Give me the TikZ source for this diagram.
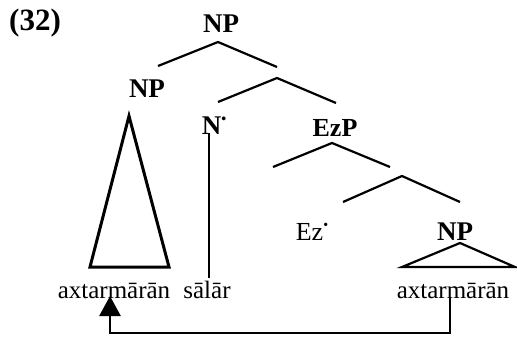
\documentclass[tikz,border=0pt]{standalone}
\usepackage{fontspec}
\setmainfont{Liberation Serif}
\usetikzlibrary{arrows.meta}
\newcommand{\updot}{\raisebox{0.42em}{\fontsize{14}{14}\selectfont\textbullet}}
\begin{document}
\begin{tikzpicture}[x=1pt,y=-1pt,
  cat/.style={anchor=base,inner sep=0pt,font=\fontsize{27}{30}\selectfont\bfseries},
  catr/.style={anchor=base,inner sep=0pt,font=\fontsize{26}{30}\selectfont},
  word/.style={anchor=base,inner sep=0pt,font=\fontsize{25}{28}\selectfont},
  branch/.style={line width=2.2pt},
  tri/.style={line width=3pt,line join=miter},
  mov/.style={line width=2.6pt,-{Triangle[width=21pt,length=20pt]}}]
\useasboundingbox (0,0) rectangle (517,337);
% labels
\node[cat,anchor=base west,font=\fontsize{31}{34}\selectfont\bfseries] (ex) at (9,31) {(32)};
\node[cat] (np0) at (221,33) {NP};
\node[cat] (np1) at (147,97) {NP};
\node[cat] (nbar) at (214,135) {N\updot};
\node[cat,font=\fontsize{26}{30}\selectfont\bfseries] (ezp) at (335,136) {EzP};
\node[catr] (ez) at (312,240) {Ez\updot};
\node[cat] (np2) at (455,240) {NP};
\node[word] (w1) at (114,298) {axtarmārān};
\node[word] (w2) at (207,298) {sālār};
\node[word] (w3) at (453,298) {axtarmārān};
% tree coordinates
\coordinate (a0) at (218,42);
\coordinate (l0) at (158,66);
\coordinate (r0) at (277,67);
\coordinate (a1) at (277,78);
\coordinate (l1) at (218,102);
\coordinate (r1) at (336,103);
\coordinate (a2) at (332,143);
\coordinate (l2) at (273,167);
\coordinate (r2) at (390,167);
\coordinate (a3) at (402,176);
\coordinate (l3) at (343,202);
\coordinate (r3) at (460,202);
\draw[branch] (l0) -- (a0) -- (r0);
\draw[branch] (l1) -- (a1) -- (r1);
\draw[branch] (l2) -- (a2) -- (r2);
\draw[branch] (l3) -- (a3) -- (r3);
% N-bar line
\coordinate (nt) at (209,133);
\coordinate (nb) at (209,278);
\draw[branch] (nt) -- (nb);
% triangles
\coordinate (t1a) at (129,116);
\coordinate (t1l) at (90,267);
\coordinate (t1r) at (169,267);
\draw[tri] (t1a) -- (t1l) -- (t1r) -- cycle;
\coordinate (t2a) at (460,243);
\coordinate (t2l) at (402,267);
\coordinate (t2r) at (515,267);
\draw[branch,line join=miter] (t2a) -- (t2l) -- (t2r) -- cycle;
% movement arrow
\coordinate (m1) at (450,298);
\coordinate (m2) at (450,333);
\coordinate (m3) at (110,333);
\coordinate (m4) at (110,296);
\draw[mov] (m1) -- (m2) -- (m3) -- (m4);
\end{tikzpicture}
\end{document}
